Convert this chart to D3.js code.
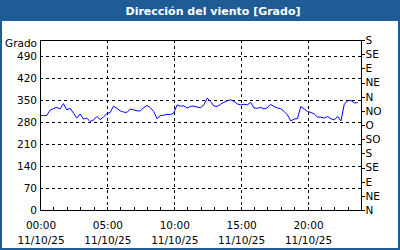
<!DOCTYPE html>
<html>
<head>
<meta charset="utf-8">
<script src="https://cdn.jsdelivr.net/npm/d3@7"></script>
<style>
    body { margin: 0; background: #ffffff; }
    svg { display: block; }
    text { font-family: "DejaVu Sans", sans-serif; font-size: 10.5px; fill: #000; }
</style>
</head>
<body>
<div id="chart"></div>
<script>
// wind direction, one reading every 15 minutes starting 00:00
const startTime = "2025-10-11T00:00";
const stepMinutes = 15;
const direction = [
    300, 300, 300, 317, 322, 326, 321, 338, 318, 323,
    308, 292, 305, 289, 292, 281, 286, 297, 287, 296,
    306, 310, 330, 323, 315, 311, 310, 321, 318, 315,
    315, 325, 332, 325, 313, 290, 300, 301, 304, 303,
    308, 334, 330, 331, 324, 329, 330, 327, 325, 334,
    355, 345, 330, 329, 336, 342, 347, 350, 345, 337,
    334, 336, 334, 342, 324, 323, 326, 321, 325, 335,
    329, 324, 322, 313, 302, 283, 289, 290, 329, 321,
    313, 310, 305, 295, 295, 292, 297, 290, 286, 297,
    283, 336, 347, 348, 340, 341
];

const yTicks = [0, 70, 140, 210, 280, 350, 420, 490];
const compassTicks = [0, 45, 90, 135, 180, 225, 270, 315, 360, 405, 450, 495, 540];
const compassLabels = ["N", "NE", "E", "SE", "S", "SO", "O", "NO", "N", "NE", "E", "SE", "S"];
const timeLabelHours = [0, 5, 10, 15, 20];

const title = "Dirección del viento [Grado]";
const unitLabel = "Grado";

function buildSeries() {
    const t0 = new Date(startTime);
    return direction.map((v, i) => ({
        time: new Date(t0.getTime() + i * stepMinutes * 60000),
        value: v
    }));
}

function createChart() {
    const width = 400;
    const height = 250;
    const left = 40, right = 361, top = 40, bottom = 210;
    const frameColor = '#1e5c96';

    const series = buildSeries();
    const t0 = new Date(startTime);
    const t1 = d3.timeHour.offset(t0, 24);

    const xScale = d3.scaleTime()
        .domain([t0, t1])
        .range([left, right]);

    const yScale = d3.scaleLinear()
        .domain([0, 540])
        .range([bottom, top]);

    let svg = d3.select('#chart')
        .append('svg')
        .attr('width', width)
        .attr('height', height);

    // outer frame and title bar
    svg.append('rect')
        .attr('x', 1)
        .attr('y', 1)
        .attr('width', width - 2)
        .attr('height', height - 2)
        .attr('fill', '#ffffff')
        .attr('stroke', frameColor)
        .attr('stroke-width', 2);

    svg.append('rect')
        .attr('x', 0)
        .attr('y', 0)
        .attr('width', width)
        .attr('height', 21)
        .attr('fill', frameColor);

    svg.append('text')
        .attr('x', 213)
        .attr('y', 15)
        .attr('text-anchor', 'middle')
        .style('font-weight', 'bold')
        .style('font-size', '11px')
        .style('fill', '#ffffff')
        .text(title);

    // dashed grid
    const grid = svg.append('g')
        .attr('stroke', '#000')
        .attr('stroke-dasharray', '3,3')
        .attr('shape-rendering', 'crispEdges');

    grid.selectAll('.hgrid')
        .data(yTicks.filter((d) => d > 0))
        .enter()
        .append('line')
        .attr('x1', left)
        .attr('x2', right)
        .attr('y1', (d) => yScale(d) + 0.5)
        .attr('y2', (d) => yScale(d) + 0.5);

    grid.selectAll('.vgrid')
        .data(timeLabelHours.filter((d) => d > 0))
        .enter()
        .append('line')
        .attr('x1', (d) => Math.round(xScale(d3.timeHour.offset(t0, d))) + 0.5)
        .attr('x2', (d) => Math.round(xScale(d3.timeHour.offset(t0, d))) + 0.5)
        .attr('y1', top)
        .attr('y2', bottom);

    // plot frame
    svg.append('path')
        .attr('d', `M${left + 0.5},${bottom + 0.5}V${top + 0.5}H${right + 0.5}V${bottom + 0.5}Z`)
        .attr('fill', 'none')
        .attr('stroke', '#000')
        .attr('shape-rendering', 'crispEdges');

    // left axis labels
    svg.selectAll('.ylab')
        .data(yTicks)
        .enter()
        .append('text')
        .attr('x', 37)
        .attr('y', (d) => yScale(d) + 4)
        .attr('text-anchor', 'end')
        .text((d) => d);

    svg.append('text')
        .attr('x', 37)
        .attr('y', 47)
        .attr('text-anchor', 'end')
        .text(unitLabel);

    // right compass axis
    const compassScale = d3.scaleLinear()
        .domain([0, 540])
        .range([bottom, top]);

    const compassAxis = d3.axisRight(compassScale)
        .tickValues(compassTicks)
        .tickFormat((d, i) => compassLabels[i])
        .tickSize(3)
        .tickPadding(1);

    svg.append('g')
        .attr('transform', `translate(${right + 0.5},0)`)
        .call(compassAxis)
        .call((g) => g.select('.domain').remove())
        .call((g) => g.selectAll('line').attr('shape-rendering', 'crispEdges'))
        .call((g) => g.selectAll('text')
            .style('font-family', '"DejaVu Sans", sans-serif')
            .style('font-size', '10.5px'));

    // bottom hourly ticks pointing up
    const hours = d3.range(0, 25).map((h) => d3.timeHour.offset(t0, h));
    svg.selectAll('.htick')
        .data(hours)
        .enter()
        .append('line')
        .attr('x1', (d) => Math.round(xScale(d)) + 0.5)
        .attr('x2', (d) => Math.round(xScale(d)) + 0.5)
        .attr('y1', bottom)
        .attr('y2', bottom - 3)
        .attr('stroke', '#000')
        .attr('shape-rendering', 'crispEdges');

    const timeFmt = d3.timeFormat('%H:%M');
    const dateFmt = d3.timeFormat('%d/%m/%y');

    let xlabels = svg.selectAll('.xlab')
        .data(timeLabelHours.map((h) => d3.timeHour.offset(t0, h)))
        .enter()
        .append('g')
        .attr('transform', (d) => `translate(${xScale(d) + 1},0)`);

    xlabels.append('text')
        .attr('y', 229)
        .attr('text-anchor', 'middle')
        .text((d) => timeFmt(d));

    xlabels.append('text')
        .attr('y', 244)
        .attr('text-anchor', 'middle')
        .text((d) => dateFmt(d));

    // wind direction line
    const line = d3.line()
        .x((d) => xScale(d.time))
        .y((d) => yScale(d.value));

    svg.append('path')
        .datum(series)
        .attr('d', line)
        .attr('fill', 'none')
        .attr('stroke', '#0000ff')
        .attr('stroke-width', 1);
}

createChart();
</script>
</body>
</html>
